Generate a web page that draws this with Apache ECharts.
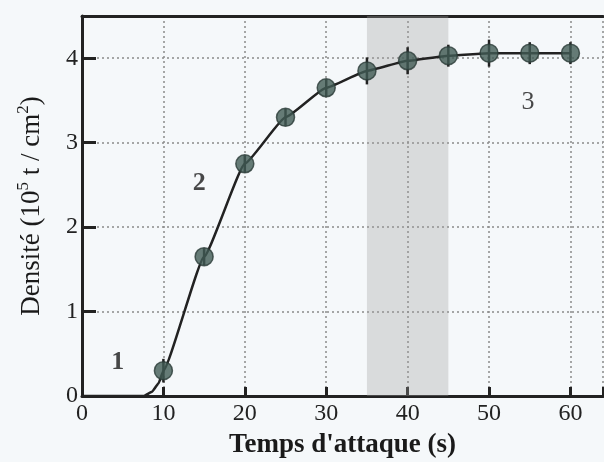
<!DOCTYPE html>
<html><head><meta charset="utf-8">
<script src="https://cdn.jsdelivr.net/npm/echarts@6/dist/echarts.min.js"></script>
<style>html,body{margin:0;padding:0;background:#f5f8fa;}#c{width:604px;height:462px;}</style>
</head><body><div id="c"></div>
<script>
// measured times (s)
const times = [10, 15, 20, 25, 30, 35, 40, 45, 50, 55, 60];
// density (10^5 t / cm^2)
const density = [0.30, 1.65, 2.75, 3.30, 3.65, 3.85, 3.97, 4.03, 4.06, 4.06, 4.06];
// error bar half-heights
const errors = [0.14, 0.10, 0.10, 0.10, 0.10, 0.16, 0.16, 0.13, 0.16, 0.13, 0.13];
// lead-in of the curve before the first measurement
const leadTimes = [0, 7.6, 8.6, 9.4];
const leadDensity = [0, 0, 0.05, 0.15];
// shaded region
const bandRange = [35, 45];
// region labels
const regionNames = ['1', '2', '3'];
const regionX = [4.4, 14.4, 54.8];
const regionY = [0.40, 2.52, 3.48];
const regionBold = [true, true, false];
const xTicks = [0, 10, 20, 30, 40, 50, 60];
const yTicks = [0, 1, 2, 3, 4];

const curve = leadTimes.map((t, i) => [t, leadDensity[i]]).concat(times.map((t, i) => [t, density[i]]));
const pts = times.map((t, i) => [t, density[i]]);
const errData = times.map((t, i) => [t, density[i] - errors[i], density[i] + errors[i]]);
const labels = regionNames.map((n, i) => ({value: [regionX[i], regionY[i]], name: n,
  label: {fontWeight: regionBold[i] ? 'bold' : 'normal'}}));

const FONT = 'Liberation Serif';
const chart = echarts.init(document.getElementById('c'));
chart.setOption({
  backgroundColor: '#f5f8fa',
  animation: false,
  grid: {left: 82, right: 1, top: 16, bottom: 66, containLabel: false, outerBoundsMode: 'none'},
  xAxis: [{
    type: 'value', min: 0, max: 64, interval: 10,
    name: "Temps d'attaque (s)", nameLocation: 'middle', nameGap: 36,
    nameTextStyle: {fontFamily: FONT, fontWeight: 'bold', fontSize: 27, color: '#1a1a1a'},
    axisLine: {lineStyle: {color: '#222', width: 3}},
    axisTick: {inside: true, length: 9, lineStyle: {color: '#222', width: 3}},
    axisLabel: {fontFamily: FONT, fontSize: 24, color: '#222', margin: 6,
      formatter: v => xTicks.includes(v) ? String(v) : ''},
    splitLine: {show: true, lineStyle: {color: '#8a8a8a', type: [2, 3], width: 1.5}}
  }, {
    type: 'value', min: 0, max: 64, position: 'top',
    axisLine: {show: true, lineStyle: {color: '#222', width: 3}},
    axisTick: {show: false}, axisLabel: {show: false}, splitLine: {show: false}
  }],
  yAxis: {
    type: 'value', min: 0, max: 4.5, interval: 1,
    name: '{a|Densité (10}{s|5}{a| t / cm}{s|2}{a|)}',
    nameLocation: 'middle', nameGap: 37, nameRotate: 90,
    nameTextStyle: {rich: {
      a: {fontFamily: FONT, fontSize: 27, color: '#1a1a1a', lineHeight: 30, verticalAlign: 'bottom'},
      s: {fontFamily: FONT, fontSize: 17, color: '#1a1a1a', lineHeight: 30, verticalAlign: 'top', padding: [0,0,14,0]}
    }},
    axisLine: {show: true, lineStyle: {color: '#222', width: 3}},
    axisTick: {show: true, inside: true, length: 14, lineStyle: {color: '#222', width: 3}},
    axisLabel: {fontFamily: FONT, fontSize: 24, color: '#222', margin: 4,
      formatter: v => yTicks.includes(v) ? String(v) : ''},
    splitLine: {show: true, lineStyle: {color: '#8a8a8a', type: [2, 3], width: 1.5}}
  },
  series: [{
    type: 'line', data: curve, showSymbol: false, smooth: 0.12, smoothMonotone: 'x',
    lineStyle: {color: '#222', width: 2.5}, z: 3,
    markArea: {silent: true, itemStyle: {color: 'rgba(160,160,160,0.32)'},
      data: [[{xAxis: bandRange[0]}, {xAxis: bandRange[1]}]]}
  }, {
    type: 'custom', data: errData, z: 4,
    renderItem: (params, api) => {
      const a = api.coord([api.value(0), api.value(1)]);
      const b = api.coord([api.value(0), api.value(2)]);
      return {type: 'line', shape: {x1: a[0], y1: a[1], x2: b[0], y2: b[1]},
        style: {stroke: '#222', lineWidth: 2.5}};
    }
  }, {
    type: 'scatter', data: pts, symbol: 'circle', symbolSize: 18, z: 5,
    itemStyle: {color: '#415b55', borderColor: '#2a3b37', borderWidth: 1.5}
  }, {
    type: 'scatter', data: labels, symbolSize: 0, z: 6,
    label: {show: true, position: 'inside', formatter: p => p.name,
      fontFamily: FONT, fontSize: 26, color: '#1a1a1a'}
  }]
});
</script></body></html>
